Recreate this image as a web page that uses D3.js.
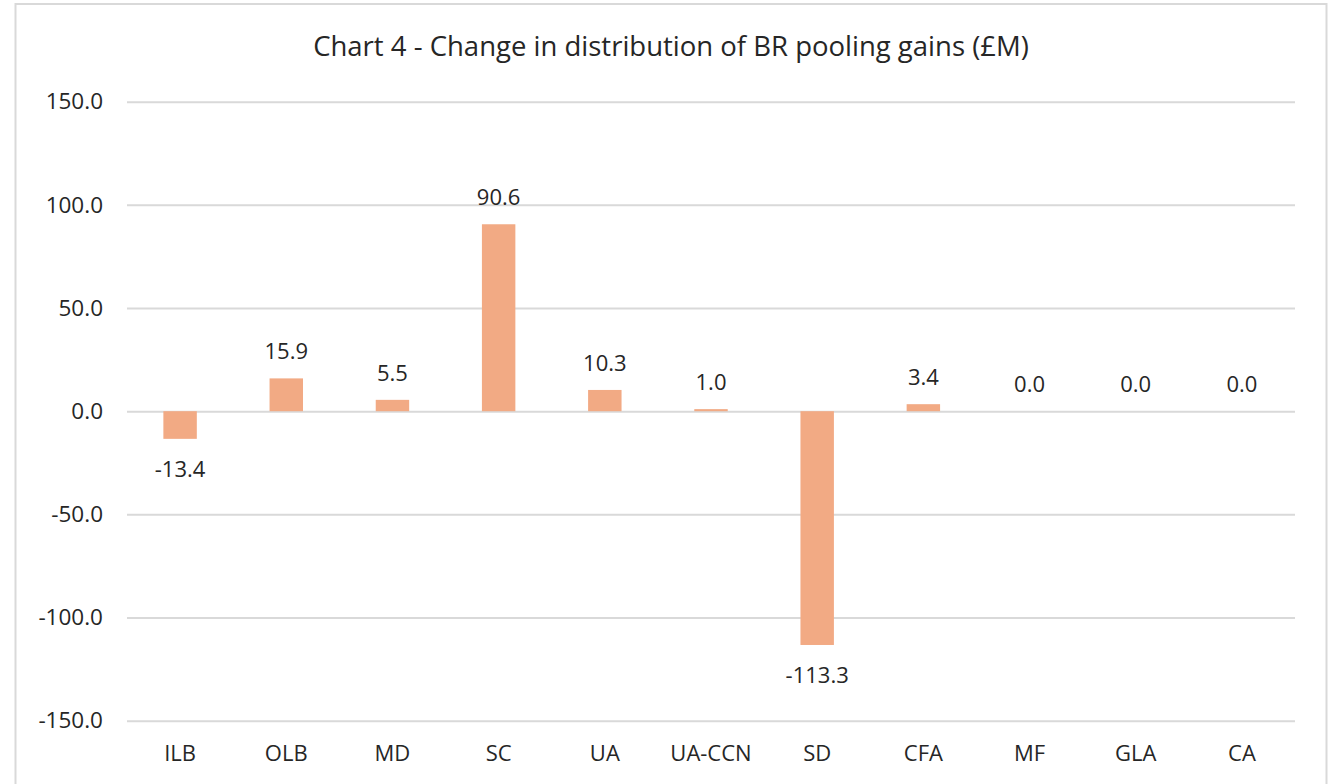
<!DOCTYPE html>
<html>
<head>
<meta charset="utf-8">
<script src="https://cdn.jsdelivr.net/npm/d3@7"></script>
<style>
  body { margin: 0; background: #fff; }
  text { font-family: "Open Sans", sans-serif; fill: #262626; }
</style>
</head>
<body>
<div id="chart"></div>
<script>
let w = 1335;
let h = 784;

// data
let categories = ["ILB", "OLB", "MD", "SC", "UA", "UA-CCN", "SD", "CFA", "MF", "GLA", "CA"];
let values = [-13.4, 15.9, 5.5, 90.6, 10.3, 1.0, -113.3, 3.4, 0.0, 0.0, 0.0];
let yTicks = [-150, -100, -50, 0, 50, 100, 150];
let title = "Chart 4 - Change in distribution of BR pooling gains (£M)";

// excel style: plain hyphen for minus
const fmt = d => d3.format(".1f")(d).replace("−", "-");

let svg = d3.select("#chart")
  .append("svg")
  .attr("width", w)
  .attr("height", h);

svg.append("rect")
  .attr("width", w)
  .attr("height", h)
  .attr("fill", "white");

// chart border
svg.append("rect")
  .attr("x", 15.5)
  .attr("y", 4)
  .attr("width", 1311)
  .attr("height", 820)
  .attr("fill", "none")
  .attr("stroke", "#d9d9d9")
  .attr("stroke-width", 2);

let plotLeft = 127, plotRight = 1295, plotTop = 101.7, plotBottom = 720.7;

let x = d3.scaleBand()
  .domain(categories)
  .range([plotLeft, plotRight])
  .paddingInner(0.685)
  .paddingOuter(0.3425);

let y = d3.scaleLinear()
  .domain([-150, 150])
  .range([plotBottom, plotTop]);

// title
svg.append("text")
  .attr("x", 671)
  .attr("y", 56)
  .attr("text-anchor", "middle")
  .attr("font-size", 27.5)
  .text(title);

// gridlines + y labels
let yAxis = svg.append("g")
  .attr("transform", `translate(${plotLeft},0)`)
  .call(d3.axisLeft(y)
    .tickValues(yTicks)
    .tickFormat(fmt)
    .tickSizeInner(-(plotRight - plotLeft))
    .tickSizeOuter(0)
    .tickPadding(24));

yAxis.select(".domain").remove();
yAxis.selectAll(".tick line")
  .attr("stroke", "#d9d9d9")
  .attr("stroke-width", 2);
yAxis.selectAll(".tick text")
  .attr("font-size", 22.5)
  .attr("font-family", "Open Sans, sans-serif")
  .attr("fill", "#262626");

// x labels
let xAxis = svg.append("g")
  .attr("transform", `translate(0,${plotBottom})`)
  .call(d3.axisBottom(x).tickSize(0).tickPadding(25));

xAxis.select(".domain").remove();
xAxis.selectAll(".tick text")
  .attr("font-size", 22)
  .attr("font-family", "Open Sans, sans-serif")
  .attr("fill", "#262626");

// bars
let data = categories.map((c, i) => ({ cat: c, value: values[i] }));

svg.append("g")
  .selectAll("rect")
  .data(data)
  .join("rect")
  .attr("x", d => x(d.cat))
  .attr("width", x.bandwidth())
  .attr("y", d => y(Math.max(0, d.value)))
  .attr("height", d => Math.abs(y(d.value) - y(0)))
  .attr("fill", "#f2aa84");

// data labels
svg.append("g")
  .selectAll("text")
  .data(data)
  .join("text")
  .attr("x", d => x(d.cat) + x.bandwidth() / 2)
  .attr("y", d => d.value < 0 ? y(d.value) + 38 : y(d.value) - 19)
  .attr("text-anchor", "middle")
  .attr("font-size", 22)
  .text(d => fmt(d.value));
</script>
</body>
</html>
